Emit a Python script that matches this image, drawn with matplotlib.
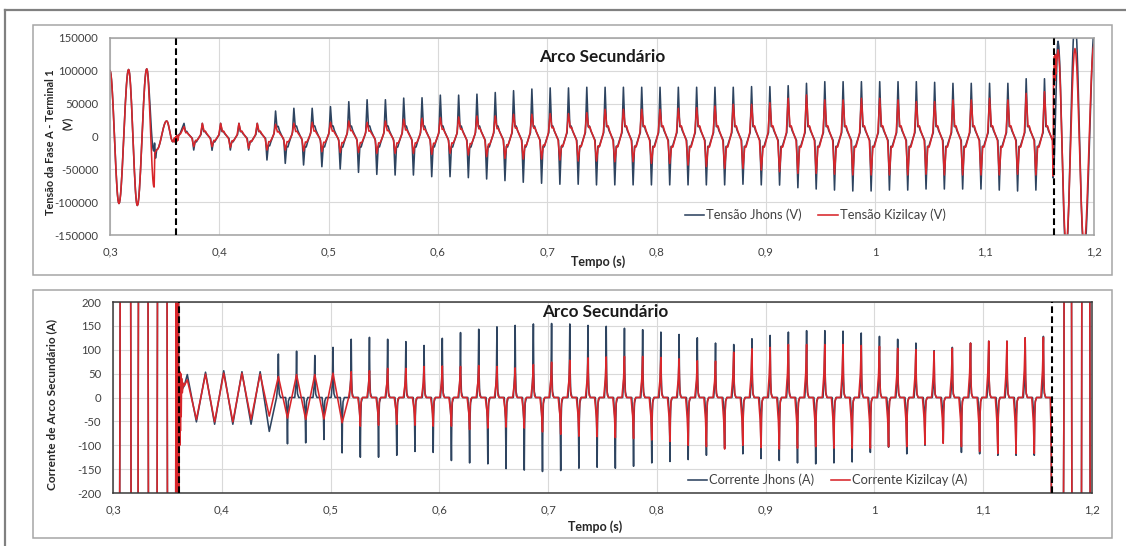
import numpy as np
import matplotlib
matplotlib.use("Agg")
import matplotlib.pyplot as plt
from matplotlib.lines import Line2D
from matplotlib.patches import Rectangle

plt.rcParams['font.family'] = ['Lato', 'DejaVu Sans']

# ---------------------------------------------------------------- axes data
X_TICKS = [0.3, 0.4, 0.5, 0.6, 0.7, 0.8, 0.9, 1.0, 1.1, 1.2]
X_TICK_LABELS = ["0,3", "0,4", "0,5", "0,6", "0,7", "0,8", "0,9", "1", "1,1", "1,2"]
V_TICKS = [-150000, -100000, -50000, 0, 50000, 100000, 150000]
I_TICKS = [-200, -150, -100, -50, 0, 50, 100, 150, 200]

POLE_OPEN_T = 0.3605     # single-pole opening
RECLOSE_T = 1.163        # reclosing

SERIES_V = ["Tensão Jhons (V)", "Tensão Kizilcay (V)"]
SERIES_I = ["Corrente Jhons (A)", "Corrente Kizilcay (A)"]

# ---------------------------------------------------------------- secondary arc, one spike pair per cycle
CYCLE = 0.016745
V_FIRST_PEAK = 0.3677
I_FIRST_PEAK = 0.3683

V_JHONS_PEAK = [20000, 20000, 20000, 20000, 20000, 38800, 43000, 43000, 45500, 53000,
                56000, 56000, 58500, 59000, 63000, 63000, 64500, 67000, 69800, 72300,
                74000, 74000, 75000, 75000, 75000, 75000, 75000, 75000, 75000, 75000,
                75000, 76000, 76000, 77400, 81000, 83500, 83500, 83500, 83500, 83500,
                83500, 82500, 81000, 81000, 81000, 81000, 88000, 88000]
V_JHONS_TROUGH = [-20600, -21000, -20600, -20600, -35800, -40900, -43400, -46000, -49500, -54600,
                  -57700, -58700, -58700, -61200, -61200, -62700, -64700, -67200, -69700, -71200,
                  -72700, -72700, -73700, -73700, -73700, -73700, -73700, -73700, -73700, -73700,
                  -72700, -73700, -74000, -78000, -80000, -81600, -83000, -83000, -81600, -81600,
                  -80000, -80000, -80000, -80000, -81600, -83000, -81600]
V_KIZ_PEAK = [15000, 20000, 20000, 20000, 20000, 18600, 20100, 21600, 21600, 23600,
              21600, 23600, 26200, 27700, 28700, 29700, 31200, 31200, 33800, 33800,
              34800, 34800, 36300, 41400, 41400, 41400, 41400, 42900, 43900, 46400,
              49000, 49000, 51500, 58200, 63200, 55700, 55700, 58200, 58200, 55700,
              53200, 53200, 55700, 55700, 58200, 55700, 65700, 68200]
V_KIZ_TROUGH = [-15500, -15500, -16800, -18000, -20600, -20600, -22000, -23100, -24300, -24300,
                -25600, -25600, -25600, -27100, -25600, -28200, -30700, -33300, -34300, -34300,
                -35800, -37400, -37400, -38400, -38400, -41000, -41000, -43500, -46000, -48600,
                -48600, -51100, -53600, -56200, -56200, -57400, -58600, -58600, -58600, -58600,
                -57400, -58600, -58600, -58600, -58600, -57400, -58600]

I_JHONS_PEAK = [48, 53, 56, 54, 54, 91, 97, 88, 105, 122,
                126, 122, 117, 109, 124, 136, 143, 148, 151, 154,
                155, 154, 151, 149, 145, 142, 137, 132, 125, 114,
                111, 123, 130, 137, 140, 140, 139, 135, 128, 122,
                114, 98, 105, 114, 118, 118, 125, 128]
I_JHONS_TROUGH = [-51, -56, -56, -56, -71, -97, -95, -88, -116, -125,
                  -125, -121, -113, -115, -132, -137, -139, -149, -152, -155,
                  -153, -148, -146, -148, -144, -137, -134, -130, -121, -106,
                  -118, -128, -132, -137, -139, -137, -135, -115, -104, -118,
                  -100, -95, -115, -118, -121, -121, -121]
I_KIZ_PEAK = [37, 49, 51, 51, 49, 44, 48, 48, 51, 54,
              56, 61, 61, 65, 66, 65, 67, 65, 62, 69,
              74, 78, 83, 85, 86, 86, 84, 81, 77, 76,
              95, 102, 105, 111, 111, 111, 111, 109, 107, 103,
              100, 97, 103, 114, 118, 118, 125, 126]
I_KIZ_TROUGH = [-46, -51, -51, -46, -39, -43, -46, -45, -53, -60,
                -58, -56, -58, -60, -60, -67, -64, -62, -64, -72,
                -77, -81, -82, -84, -86, -89, -92, -100, -103, -108,
                -100, -105, -108, -106, -103, -106, -106, -106, -103, -103,
                -98, -96, -103, -113, -117, -117, -117]

# ---------------------------------------------------------------- voltage before the arc / after reclosing
V_PRE_T_JHONS = [0.3000, 0.3082, 0.3170, 0.3250, 0.3336, 0.3400, 0.3408, 0.3416, 0.3428,
                 0.3518, 0.3575, 0.3600, 0.3640]
V_PRE_JHONS = [100000, -102000, 102000, -105000, 103000, -22000, -10000, -33000, -20000,
               23600, -8000, -4000, 4000]
V_PRE_T_KIZ = [0.3000, 0.3082, 0.3170, 0.3250, 0.3336, 0.3403, 0.3410, 0.3428, 0.3518,
               0.3575, 0.3590, 0.3596, 0.3602, 0.3608, 0.3614, 0.3620, 0.3630, 0.3645]
V_PRE_KIZ = [100000, -102000, 102000, -105000, 103000, -77000, -25000, -20000, 23600,
             -8000, -2000, -9000, 0, -8000, 2000, -6000, 2000, 4000]

V_POST_T_JHONS = [1.1626, 1.1671, 1.1745, 1.1826, 1.1909, 1.2010]
V_POST_JHONS = [-63000, 145000, -178000, 178000, -178000, 175000]
V_POST_T_KIZ = [1.1626, 1.1630, 1.1634, 1.1638, 1.1642, 1.1647, 1.1652, 1.1658, 1.1671,
                1.1745, 1.1826, 1.1909, 1.2000]
V_POST_KIZ = [-60000, 100000, 78000, 122000, 85000, 125000, 95000, 115000, 132000,
              -165000, 134000, -165000, 140000]

# ---------------------------------------------------------------- current outside the arc window
FAULT_CURRENT_PEAK = 6000      # far beyond the axis range
I_FAULT_CROSS = [0.3064, 0.3165, 0.3232, 0.3324, 0.3407, 0.3499, 0.3578, 0.3583,
                 0.3588, 0.3593, 0.3598, 0.3603, 0.3608]
I_EXT_T_KIZ = [0.3611, 0.3614, 0.3617, 0.3620, 0.3623, 0.3627, 0.3631, 0.3637, 0.3646, 0.3656]
I_EXT_KIZ = [55, -100, 52, -70, 50, -40, 40, 10, 30, 25]
I_EXT_T_JHONS = [0.3612, 0.3630, 0.3656]
I_EXT_JHONS = [0, 15, 25]
I_RECLOSE_CROSS = [1.1742, 1.1813, 1.1905, 1.1981]
I_SWITCH_T = [1.1618, 1.1626]
I_SWITCH_JHONS = [0, -121]
I_SWITCH_KIZ = [0, -117]

# ---------------------------------------------------------------- waveform shapes inside one cycle
V_TROUGH_PHASE = 0.53
V_PLATEAU_PHASE = [0.12, 0.19]
V_PLATEAU_LEVEL = [15000, 16000, 9000, -6000]   # after the spike, bump, decay, before next spike
V_SPIKE_HALF = {"jhons": 0.075, "kiz": 0.10}
I_PULSE_JHONS = [(-0.10, 0.0), (-0.03, 0.3), (0.0, 1.0), (0.02, 0.35), (0.05, 0.08), (0.12, 0.0)]
I_PULSE_KIZ = [(-0.14, 0.0), (-0.05, 0.45), (0.0, 1.0), (0.025, 0.3), (0.06, 0.06), (0.13, 0.0)]
I_TRIANGLE_CYCLES = {"jhons": 5, "kiz": 9}

COLOR_JHONS = "#2e4460"
COLOR_KIZ = "#d8262b"


def eased(knot_t, knot_v, n=18):
    ts, vs = [], []
    for i in range(len(knot_t) - 1):
        s = np.linspace(0, 1, n, endpoint=False)
        w = (1 - np.cos(np.pi * s)) / 2
        ts.append(knot_t[i] + (knot_t[i + 1] - knot_t[i]) * s)
        vs.append(knot_v[i] + (knot_v[i + 1] - knot_v[i]) * w)
    ts.append([knot_t[-1]])
    vs.append([knot_v[-1]])
    return list(np.concatenate(ts)), list(np.concatenate(vs))


def arc_voltage(peaks, troughs, first, spike):
    t, v = [], []
    for k, p in enumerate(peaks):
        t0 = first + k * CYCLE
        sp = min(1.0, p / 40000)
        t.append(t0)
        v.append(p)
        ph = [spike, spike + V_PLATEAU_PHASE[0] - 0.05, spike + V_PLATEAU_PHASE[1] - 0.05,
              V_TROUGH_PHASE - spike]
        for f, lv in zip(ph, V_PLATEAU_LEVEL):
            t.append(t0 + f * CYCLE)
            v.append(lv * sp)
        if k < len(troughs):
            tr = troughs[k]
            st = min(1.0, -tr / 40000)
            t.append(t0 + V_TROUGH_PHASE * CYCLE)
            v.append(tr)
            ph = [V_TROUGH_PHASE + spike, V_TROUGH_PHASE + spike + V_PLATEAU_PHASE[0] - 0.05,
                  V_TROUGH_PHASE + spike + V_PLATEAU_PHASE[1] - 0.05, 1 - spike]
            for f, lv in zip(ph, V_PLATEAU_LEVEL):
                t.append(t0 + f * CYCLE)
                v.append(-lv * st)
    return t, v


def arc_current(peaks, troughs, first, n_tri, pulse):
    t, v = [], []
    for k in range(len(peaks)):
        t0 = first + k * CYCLE
        ext = [(t0, peaks[k])]
        if k < len(troughs):
            ext.append((t0 + 0.5 * CYCLE, troughs[k]))
        for tc, val in ext:
            if k < n_tri:
                t.append(tc)
                v.append(val)
            else:
                for dp, f in pulse:
                    t.append(tc + dp * CYCLE)
                    v.append(f * val)
    return t, v


def fault_lobes(crossings, sign, lead=None, tail=None):
    t, v = [], []
    if lead is not None:
        t.append(lead)
        v.append(-sign * FAULT_CURRENT_PEAK)
    for i, c in enumerate(crossings):
        t.append(c)
        v.append(0)
        if i + 1 < len(crossings):
            t.append((c + crossings[i + 1]) / 2)
            v.append(sign * FAULT_CURRENT_PEAK)
            sign = -sign
    if tail is not None:
        t.append(tail)
        v.append(sign * FAULT_CURRENT_PEAK)
    return t, v


# ---------------------------------------------------------------- assemble series
def voltage_series(pre_t, pre_v, peaks, troughs, spike, post_t, post_v):
    t1, v1 = eased(pre_t, pre_v)
    t2, v2 = arc_voltage(peaks, troughs, V_FIRST_PEAK, spike)
    t3, v3 = eased(post_t, post_v, n=10)
    return np.array(t1 + t2 + t3), np.array(v1 + v2 + v3)


vj_t, vj = voltage_series(V_PRE_T_JHONS, V_PRE_JHONS, V_JHONS_PEAK, V_JHONS_TROUGH,
                          V_SPIKE_HALF["jhons"], V_POST_T_JHONS, V_POST_JHONS)
vk_t, vk = voltage_series(V_PRE_T_KIZ, V_PRE_KIZ, V_KIZ_PEAK, V_KIZ_TROUGH,
                          V_SPIKE_HALF["kiz"], V_POST_T_KIZ, V_POST_KIZ)


def current_series(ext_t, ext_v, peaks, troughs, n_tri, pulse, sw_t, sw_v):
    t1, v1 = fault_lobes(I_FAULT_CROSS, 1, lead=0.2990)
    t2, v2 = arc_current(peaks, troughs, I_FIRST_PEAK, n_tri, pulse)
    t3, v3 = fault_lobes(I_RECLOSE_CROSS, 1, lead=1.1632, tail=1.2030)
    return (np.array(t1 + list(ext_t) + t2 + list(sw_t) + t3),
            np.array(v1 + list(ext_v) + v2 + list(sw_v) + v3))


ij_t, ij = current_series(I_EXT_T_JHONS, I_EXT_JHONS, I_JHONS_PEAK, I_JHONS_TROUGH,
                          I_TRIANGLE_CYCLES["jhons"], I_PULSE_JHONS, I_SWITCH_T, I_SWITCH_JHONS)
ik_t, ik = current_series(I_EXT_T_KIZ, I_EXT_KIZ, I_KIZ_PEAK, I_KIZ_TROUGH,
                          I_TRIANGLE_CYCLES["kiz"], I_PULSE_KIZ, I_SWITCH_T, I_SWITCH_KIZ)

# ---------------------------------------------------------------- figure
W, H = 1126, 546
fig = plt.figure(figsize=(W / 100, H / 100), dpi=100)
fig.patch.set_facecolor("white")


def fx(px):
    return px / W


def fy(py):
    return 1 - py / H


# outer frame and chart-area borders
fig.add_artist(Line2D([fx(5), fx(5)], [fy(10), fy(546)], color="#808080", lw=1.6))
fig.add_artist(Line2D([fx(5), fx(1126)], [fy(10), fy(10)], color="#808080", lw=1.6))
for top, bot in [(25, 275), (290, 538)]:
    fig.add_artist(Rectangle((fx(33), fy(bot)), fx(1112) - fx(33), fy(top) - fy(bot),
                             transform=fig.transFigure, fill=False, ec="#a6a6a6", lw=1.1))

ax1 = fig.add_axes([fx(110), fy(235), fx(1094) - fx(110), fy(38) - fy(235)])
ax2 = fig.add_axes([fx(113), fy(493), fx(1092) - fx(113), fy(302) - fy(493)])

GRID = "#d9d9d9"
TICK_FS = 8.2

for ax, yt, ylim, spc in [(ax1, V_TICKS, (-150000, 150000), "#a0a0a0"),
                          (ax2, I_TICKS, (-200, 200), "#3a3a3a")]:
    ax.set_xlim(0.3, 1.2)
    ax.set_ylim(*ylim)
    ax.set_xticks(X_TICKS)
    ax.set_xticklabels(X_TICK_LABELS)
    ax.set_yticks(yt)
    ax.set_yticklabels([str(v) for v in yt])
    ax.tick_params(length=0, labelsize=TICK_FS, colors="#404040", pad=8.5)
    ax.grid(True, color=GRID, lw=0.8)
    ax.set_axisbelow(True)
    for s in ax.spines.values():
        s.set_color(spc)
        s.set_linewidth(1.1)

LW = 1.15
ax1.plot(vj_t, vj, color=COLOR_JHONS, lw=LW, label=SERIES_V[0], solid_joinstyle="round")
ax1.plot(vk_t, vk, color=COLOR_KIZ, lw=LW, label=SERIES_V[1], solid_joinstyle="round")
ax2.plot(ij_t, ij, color=COLOR_JHONS, lw=LW, label=SERIES_I[0], solid_joinstyle="round")
ax2.plot(ik_t, ik, color=COLOR_KIZ, lw=LW, label=SERIES_I[1], solid_joinstyle="round")

for ax in (ax1, ax2):
    for xv in (POLE_OPEN_T, RECLOSE_T):
        ax.axvline(xv, color="black", lw=1.5, dashes=(3.2, 1.6), zorder=5)

leg_kw = dict(ncol=2, frameon=False, fontsize=9.3, handlelength=1.5, handletextpad=0.15,
              columnspacing=1.3, borderpad=0, borderaxespad=0, loc="center left")
leg1 = ax1.legend(bbox_to_anchor=(0.584, 0.1015), **leg_kw)
leg2 = ax2.legend(bbox_to_anchor=(0.587, 0.068), **leg_kw)
for leg in (leg1, leg2):
    for txt in leg.get_texts():
        txt.set_color("#404040")

# titles and axis labels
fig.text(fx(602), fy(57), "Arco Secundário", ha="center", va="center",
         fontsize=12.3, fontweight="bold", color="#1a1a1a")
fig.text(fx(605), fy(312), "Arco Secundário", ha="center", va="center",
         fontsize=12.3, fontweight="bold", color="#1a1a1a")
fig.text(fx(598), fy(262), "Tempo (s)", ha="center", va="center",
         fontsize=9, fontweight="bold", color="#262626")
fig.text(fx(595), fy(527), "Tempo (s)", ha="center", va="center",
         fontsize=9, fontweight="bold", color="#262626")
fig.text(fx(51), fy(142), "Tensão da Fase A - Terminal 1", ha="center", va="center",
         rotation=90, fontsize=7.8, fontweight="bold", color="#262626")
fig.text(fx(67), fy(123), "(V)", ha="center", va="center",
         rotation=90, fontsize=7.8, fontweight="bold", color="#262626")
fig.text(fx(52), fy(404), "Corrente de Arco Secundário (A)", ha="center", va="center",
         rotation=90, fontsize=8.6, fontweight="bold", color="#262626")

fig.savefig("out.png", dpi=100, facecolor="white")
